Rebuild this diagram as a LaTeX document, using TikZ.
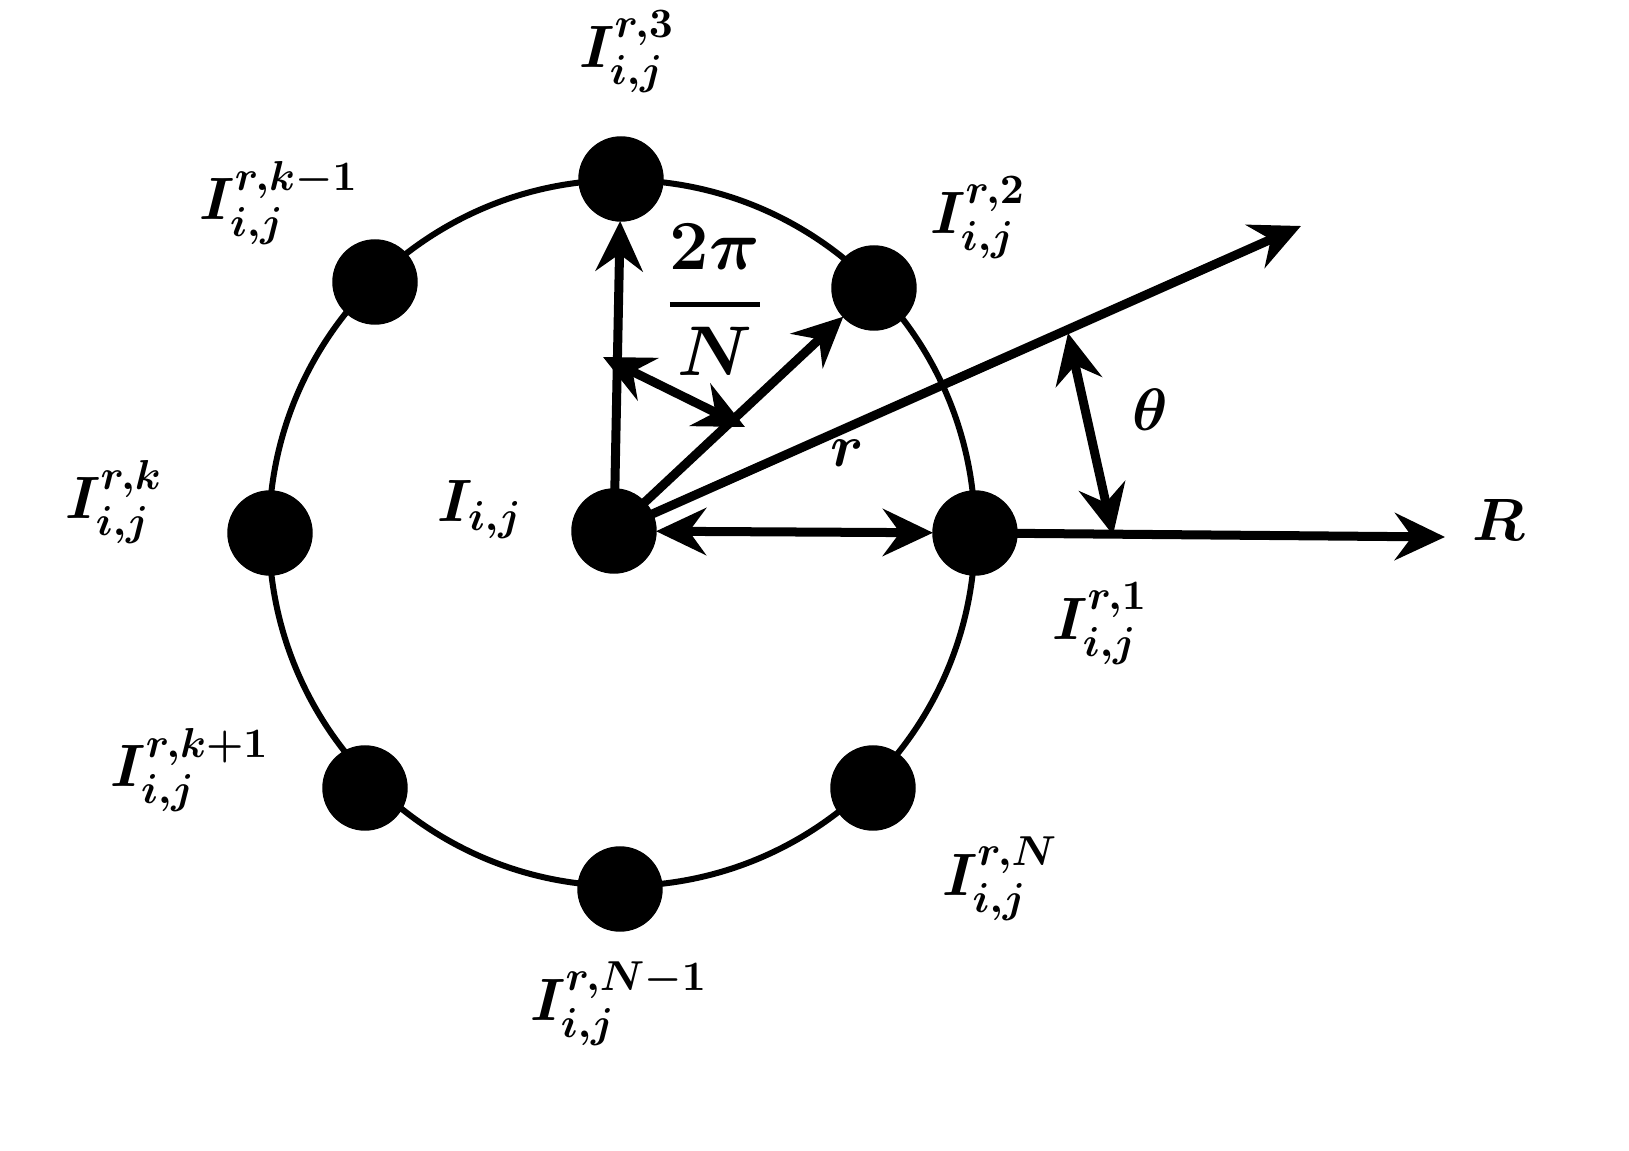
\RequirePackage{fix-cm}
\documentclass[tikz,border=0pt]{standalone}
\usepackage{amsmath}
\usetikzlibrary{arrows.meta}
\begin{document}
\begin{tikzpicture}[x=0.01cm,y=0.01cm,
	dot/.style={draw,circle,fill=black,inner sep=0,outer sep=0,minimum size=0.84cm},
	lbl/.style={inner sep=0,font=\fontsize{17}{21}\selectfont\boldmath},
	tip/.tip={Stealth[length=0.5cm,width=0.47cm,inset=0.17cm]},
	arr/.style={line width=0.09cm,-tip},
	darr/.style={line width=0.09cm,tip-tip}]
	\useasboundingbox (0,0) rectangle (1629,1151);
	\draw[line width=0.06cm] (622,618) circle (353);
	\node[dot] (0) at (614,620) {};
	\node[dot] (1) at (975,618) {};
	\node[dot] (2) at (874,863) {};
	\node[dot] (3) at (621,972) {};
	\node[dot] (4) at (375,869) {};
	\node[dot] (5) at (270,618) {};
	\node[dot] (6) at (365,363) {};
	\node[dot] (7) at (620,262) {};
	\node[dot] (8) at (873,363) {};
	\coordinate (far) at (1301,925);
	\coordinate (end) at (1445,614);
	\coordinate (t1) at (1068,818);
	\coordinate (t2) at (1113,616);
	\coordinate (a1) at (603,794);
	\coordinate (a2) at (745,724);
	\draw[arr] (0) -- (3);
	\draw[arr] (0) -- (2);
	\draw[arr] (0) -- (far);
	\draw[darr] (0) -- (1);
	\draw[arr] (1) -- (end);
	\draw[darr] (t1) -- (t2);
	\draw[darr] (a1) -- (a2);
	\node[lbl,font=\fontsize{20}{24}\selectfont\boldmath] (frac) at (715,851) {$\genfrac{}{}{1.3pt}{0}{2\pi}{N}$};
	\node[lbl] (rad) at (847,698) {$r$};
	\node[lbl] (ang) at (1150,741) {$\theta$};
	\node[lbl] (axis) at (1499,631) {$R$};
	\node[lbl] (l0) at (480,641) {$I_{i,j}$};
	\node[lbl] (l1) at (1100,527) {$I_{i,j}^{r,1}$};
	\node[lbl] (l2) at (978,933) {$I_{i,j}^{r,2}$};
	\node[lbl] (l3) at (627,1099) {$I_{i,j}^{r,3}$};
	\node[lbl] (l4) at (279,948) {$I_{i,j}^{r,k-1}$};
	\node[lbl] (l5) at (114,649) {$I_{i,j}^{r,k}$};
	\node[lbl] (l6) at (190,381) {$I_{i,j}^{r,k+1}$};
	\node[lbl] (l7) at (619,147) {$I_{i,j}^{r,N-1}$};
	\node[lbl] (l8) at (1000,272) {$I_{i,j}^{r,N}$};
\end{tikzpicture}
\end{document}
